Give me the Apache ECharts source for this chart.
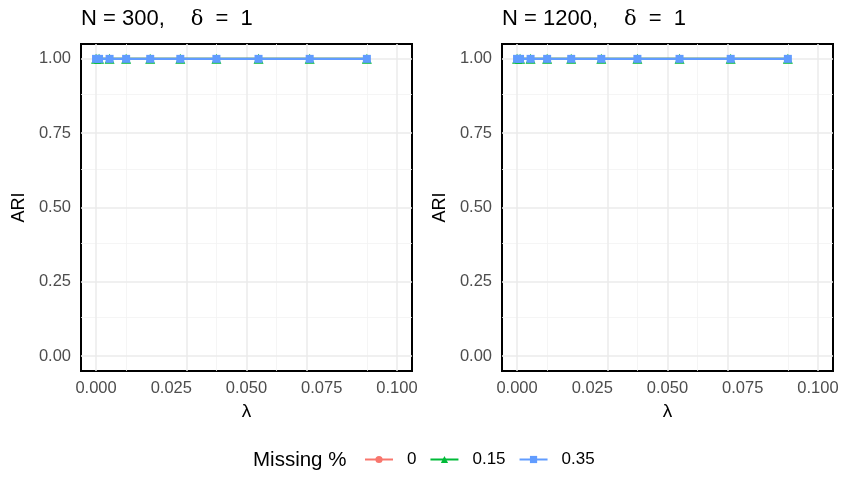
<!DOCTYPE html>
<html>
<head>
<meta charset="utf-8">
<script src="https://cdn.jsdelivr.net/npm/echarts@6/dist/echarts.min.js"></script>
<style>
  html, body { margin: 0; padding: 0; background: #fff; }
  #chart { width: 842px; height: 477px; }
</style>
</head>
<body>
<div id="chart"></div>
<script>
// Penalty values (λ) used in both simulations
const lambdas = [0, 0.001, 0.0045, 0.01, 0.018, 0.028, 0.04, 0.054, 0.071, 0.09];

// ARI by missing-data rate, N = 300
const ari300_m0  = [1, 1, 1, 1, 1, 1, 1, 1, 1, 1];
const ari300_m15 = [1, 1, 1, 1, 1, 1, 1, 1, 1, 1];
const ari300_m35 = [1, 1, 1, 1, 1, 1, 1, 1, 1, 1];

// ARI by missing-data rate, N = 1200
const ari1200_m0  = [1, 1, 1, 1, 1, 1, 1, 1, 1, 1];
const ari1200_m15 = [1, 1, 1, 1, 1, 1, 1, 1, 1, 1];
const ari1200_m35 = [1, 1, 1, 1, 1, 1, 1, 1, 1, 1];

const panelNs = ['300', '1200'];
const missingLabels = ['0', '0.15', '0.35'];

const xTicks = [0, 0.025, 0.05, 0.075, 0.1];
const xMinor = [0.0125, 0.0375, 0.0625, 0.0875];
const yTicks = [0, 0.25, 0.5, 0.75, 1];
const yMinor = [0.125, 0.375, 0.625, 0.875];

const colors = ['#F8766D', '#00BA38', '#619CFF'];
const symbols = ['circle', 'triangle', 'rect'];
const symbolSizes = [7, 10, 8];

const FONT = 'Liberation Sans, Arial, sans-serif';

const panels = [
  [ari300_m0, ari300_m15, ari300_m35],
  [ari1200_m0, ari1200_m15, ari1200_m35]
];

const grids = [
  { left: 81, top: 44, width: 331, height: 327 },
  { left: 502, top: 44, width: 331, height: 327 }
].map(g => Object.assign(g, { show: true, borderColor: '#000', borderWidth: 2, backgroundColor: 'transparent', containLabel: false }));

const xAxes = grids.map((g, i) => ({
  type: 'value', gridIndex: i, min: -0.005, max: 0.105,
  name: 'λ', nameLocation: 'middle', nameGap: 31,
  nameTextStyle: { fontFamily: FONT, fontSize: 19, color: '#000' },
  axisLine: { show: false }, axisTick: { show: false }, splitLine: { show: false },
  axisLabel: {
    customValues: xTicks, margin: 9,
    fontFamily: FONT, fontSize: 16.5, color: '#4D4D4D',
    formatter: v => v.toFixed(3)
  }
}));

const yAxes = grids.map((g, i) => ({
  type: 'value', gridIndex: i, min: -0.05, max: 1.05,
  name: 'ARI', nameLocation: 'middle', nameGap: 53,
  nameTextStyle: { fontFamily: FONT, fontSize: 18, color: '#000' },
  axisLine: { show: false }, axisTick: { show: false }, splitLine: { show: false },
  axisLabel: {
    customValues: yTicks, margin: 10,
    fontFamily: FONT, fontSize: 16.5, color: '#4D4D4D',
    formatter: v => v.toFixed(2)
  }
}));

const majorStyle = { color: '#EBEBEB', width: 1.5, type: 'solid' };
const minorStyle = { color: '#F3F3F3', width: 0.8, type: 'solid' };

const series = [];
panels.forEach((vals, p) => {
  // panel grid lines, kept beneath the data
  series.push({
    type: 'line', xAxisIndex: p, yAxisIndex: p, data: [], silent: true, z: 0,
    markLine: {
      z: 0, silent: true, symbol: 'none', label: { show: false }, animation: false,
      data: [
        ...xMinor.map(v => ({ xAxis: v, lineStyle: minorStyle })),
        ...yMinor.map(v => ({ yAxis: v, lineStyle: minorStyle })),
        ...xTicks.map(v => ({ xAxis: v, lineStyle: majorStyle })),
        ...yTicks.map(v => ({ yAxis: v, lineStyle: majorStyle }))
      ]
    }
  });
  vals.forEach((arr, k) => {
    series.push({
      name: missingLabels[k], type: 'line', xAxisIndex: p, yAxisIndex: p,
      data: lambdas.map((x, j) => [x, arr[j]]),
      color: colors[k], symbol: symbols[k], symbolSize: symbolSizes[k],
      showSymbol: true, lineStyle: { width: 2.2, color: colors[k] },
      itemStyle: { color: colors[k], borderColor: colors[k], borderWidth: 0, opacity: 1 },
      z: 10 + k, animation: false
    });
  });
});

const titleStyle = {
  fontFamily: FONT, fontSize: 22, fontWeight: 'normal', color: '#000',
  rich: {
    a: { fontFamily: FONT, fontSize: 22, lineHeight: 26, verticalAlign: 'bottom', color: '#000' },
    d: { fontFamily: 'DejaVu Serif, Liberation Serif, serif', fontSize: 21, lineHeight: 26, verticalAlign: 'bottom', color: '#000', padding: [0, 12, 0, 26] }
  }
};

const chart = echarts.init(document.getElementById('chart'), null, { renderer: 'canvas' });
chart.setOption({
  animation: false,
  backgroundColor: '#fff',
  title: [
    { text: '{a|N = ' + panelNs[0] + ',}{d|δ}{a|=  1}', left: 81, top: 4, padding: 0, textStyle: titleStyle },
    { text: '{a|N = ' + panelNs[1] + ',}{d|δ}{a|=  1}', left: 502, top: 4, padding: 0, textStyle: titleStyle },
    { text: 'Missing %', left: 253, top: 450, padding: 0, textStyle: { fontFamily: FONT, fontSize: 20.5, fontWeight: 'normal', color: '#000' } }
  ],
  legend: {
    data: missingLabels, left: 364, top: 451, padding: 0, itemWidth: 28, itemHeight: 9, itemGap: 13,
    textStyle: { fontFamily: FONT, fontSize: 17, color: '#000', padding: [0, 0, 0, 9] }
  },
  grid: grids,
  xAxis: xAxes,
  yAxis: yAxes,
  series: series
});
</script>
</body>
</html>
